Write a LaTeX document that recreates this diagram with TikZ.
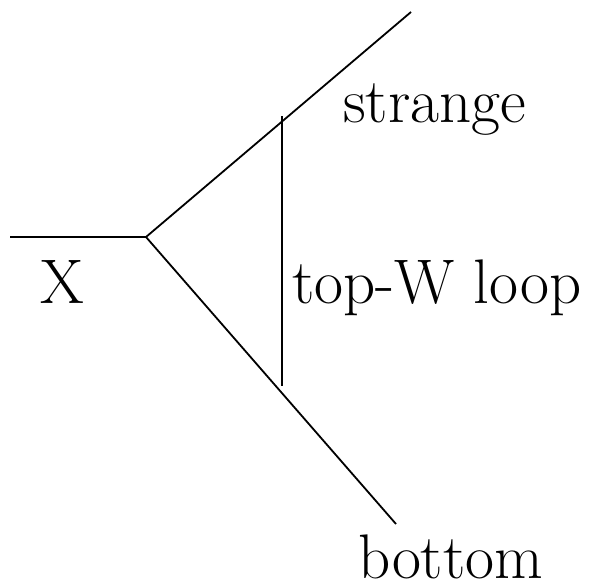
\documentclass[tikz,border=0pt]{standalone}
\usepackage{fontspec}
\usetikzlibrary{positioning}

\begin{document}
\begin{tikzpicture}[
    x=1pt, y=-1pt,
    leg/.style={line width=1.8pt, black},
    lbl/.style={anchor=base west, inner sep=0pt, font=\fontsize{63}{70}\selectfont}
]
    \useasboundingbox (0,0) rectangle (591,587);

    \coordinate (in)  at (10, 237);
    \coordinate (vtx) at (146,237);
    \coordinate (s)   at (411, 12);
    \coordinate (b)   at (396,524);
    \coordinate (lt)  at (282,116);
    \coordinate (lb)  at (282,386);

    \draw[leg] (in) -- (vtx);
    \draw[leg] (vtx) -- (s);
    \draw[leg] (vtx) -- (b);
    \draw[leg] (lt) -- (lb);

    \node[lbl] (strange) at (343,122) {strange};
    \node[lbl] (X)       at (40, 303) {X};
    \node[lbl] (loop)    at (292,303) {top-W loop};
    \node[lbl] (bottom)  at (358,578) {bottom};
\end{tikzpicture}
\end{document}
